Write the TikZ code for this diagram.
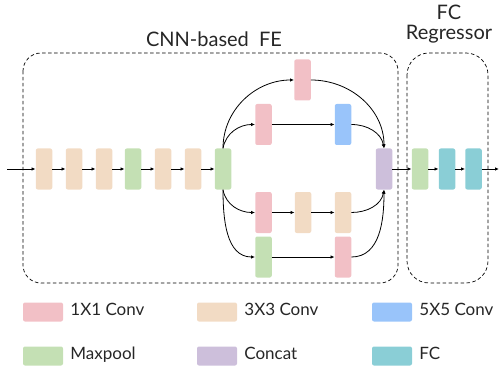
\documentclass[tikz,border=0pt]{standalone}
\usepackage{fontspec}
\setmainfont{Lato}
\usetikzlibrary{arrows.meta, positioning, math}

\definecolor{cpink}{RGB}{242,192,198}
\definecolor{cbeige}{RGB}{242,219,196}
\definecolor{cblue}{RGB}{153,196,250}
\definecolor{cgreen}{RGB}{196,224,180}
\definecolor{cpurple}{RGB}{205,191,219}
\definecolor{cteal}{RGB}{138,206,214}

\tikzset{
 blk/.style={rounded corners=2pt, minimum width=16.5pt, minimum height=41pt, inner sep=0pt},
 leg/.style={rounded corners=2pt, minimum width=40pt, minimum height=19pt, inner sep=0pt},
 con/.style={-{Latex[length=4pt,width=3.5pt]}, line width=0.8pt},
 grp/.style={dash pattern=on 3.5pt off 2.5pt, line width=0.7pt, rounded corners=18pt},
 lbl/.style={font=\fontsize{17}{19}\selectfont, text=black!85, inner sep=0pt, anchor=base west},
 ttl/.style={font=\fontsize{20}{22}\selectfont, text=black!85, inner sep=0pt, anchor=base}
}

\begin{document}
\begin{tikzpicture}[x=1pt,y=-1pt]

\useasboundingbox (0,0) rectangle (502,371);

%dashed groups
\draw[grp] (23,53) rectangle (398,283);
\draw[grp, rounded corners=22pt] (407,53) rectangle (488,283);
\node[ttl] (tfe) at (214,47) {CNN-based\ \ FE};
\node[ttl] (tfc) at (449,20) {FC};
\node[ttl] (treg) at (449,40) {Regressor};

%main chain
\coordinate (in) at (7,169);
\foreach \x/\c [count=\i] in {44/cbeige,74/cbeige,104/cbeige,133/cgreen,163/cbeige,193/cbeige,223/cgreen}{
 \node[blk, fill=\c] (m\i) at (\x,169) {};
}
\draw[con] (in) -- (m1);
\foreach \i [evaluate=\i as \j using int(\i+1)] in {1,...,6}{
 \draw[con] (m\i) -- (m\j);
}

%inception branches
\node[blk, fill=cpink] (a1) at (302.5,80) {};
\node[blk, fill=cpink] (b1) at (263.5,124.5) {};
\node[blk, fill=cblue] (b2) at (343,124.5) {};
\node[blk, fill=cpink] (c1) at (263.5,212.5) {};
\node[blk, fill=cbeige] (c2) at (303,212.5) {};
\node[blk, fill=cbeige] (c3) at (343,212.5) {};
\node[blk, fill=cgreen] (d1) at (263.5,257) {};
\node[blk, fill=cpink] (d2) at (343,257) {};
\node[blk, fill=cpurple] (cat) at (384,169) {};

\draw[con] (m7.north) to[out=90,in=180] (a1.west);
\draw[con] (m7.north) to[out=80,in=180] (b1.west);
\draw[con] (m7.south) to[out=-80,in=180] (c1.west);
\draw[con] (m7.south) to[out=-90,in=180] (d1.west);
\draw[con] (b1) -- (b2);
\draw[con] (c1) -- (c2);
\draw[con] (c2) -- (c3);
\draw[con] (d1) -- (d2);
\draw[con] (a1.east) to[out=0,in=90] (cat.north);
\draw[con] (b2.east) to[out=0,in=100] (cat.north);
\draw[con] (c3.east) to[out=0,in=-100] (cat.south);
\draw[con] (d2.east) to[out=0,in=-90] (cat.south);

%FC regressor
\node[blk, fill=cgreen] (f1) at (420,169) {};
\node[blk, fill=cteal] (f2) at (447,169) {};
\node[blk, fill=cteal] (f3) at (473.5,169) {};
\coordinate (out) at (499,169);
\draw[con] (cat) -- (f1);
\draw[con] (f1) -- (f2);
\draw[con] (f2) -- (f3);
\draw[con] (f3) -- (out);

%legend
\foreach \x/\y/\c/\t [count=\i] in {43/312/cpink/1X1 Conv, 217/312/cbeige/3X3 Conv, 392/312/cblue/5X5 Conv,
 43/356/cgreen/Maxpool, 217/356/cpurple/Concat, 392/356/cteal/FC}{
 \node[leg, fill=\c] (l\i) at (\x,\y) {};
 \node[lbl] (lt\i) at ([xshift=7pt,yshift=6pt]l\i.south east) {\t};
}

\end{tikzpicture}
\end{document}
